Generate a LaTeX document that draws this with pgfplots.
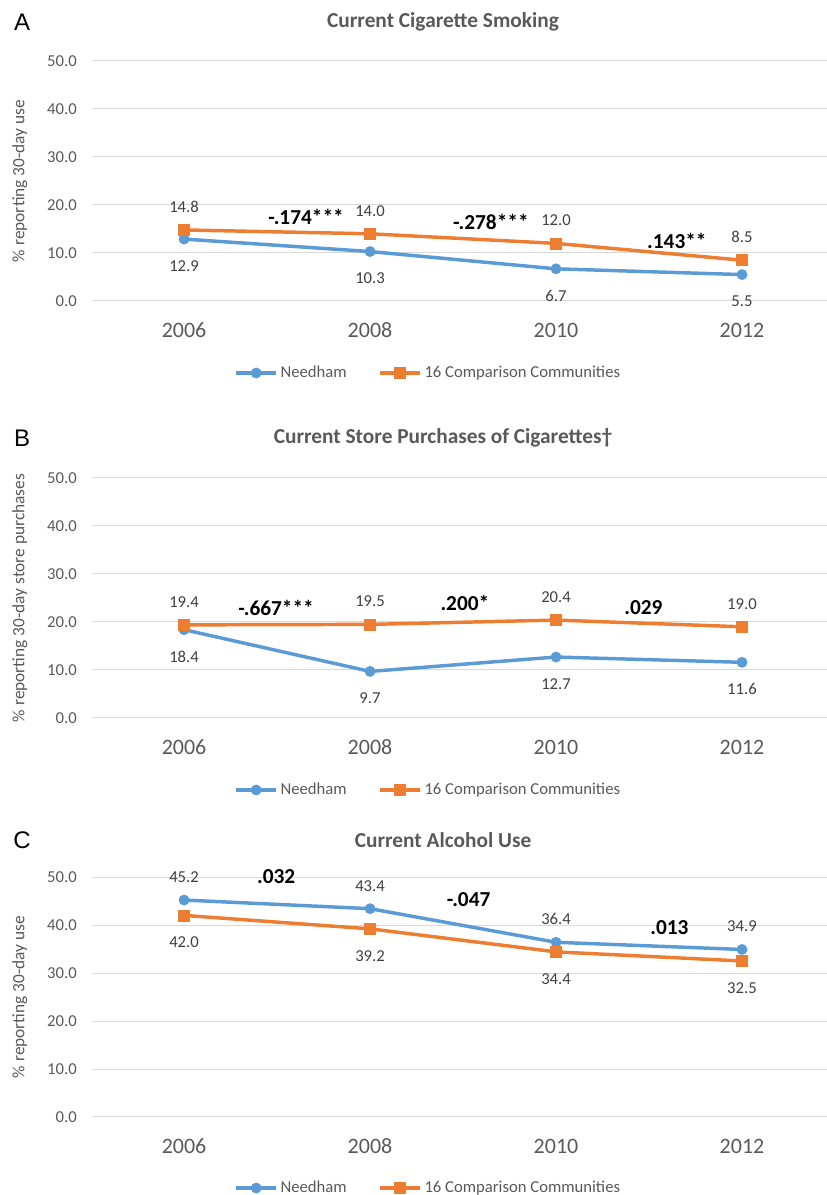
\documentclass[border=0pt]{standalone}
\usepackage{fontspec}
\setmainfont{Carlito}
\newfontfamily\arialfont{Liberation Sans}
\usepackage{pgfplots}
\pgfplotsset{compat=1.18}
\definecolor{nblue}{HTML}{5B9BD5}
\definecolor{corange}{HTML}{ED7D31}
\definecolor{gridgray}{HTML}{D9D9D9}
\definecolor{txtgray}{HTML}{595959}
\definecolor{lblgray}{HTML}{404040}
\newlength{\px}\setlength{\px}{0.75pt}
\newcommand{\fs}[1]{\fontsize{#1}{#1}\selectfont}
\pgfplotsset{
  panel/.style={
    scale only axis, width=735\px, height=240\px,
    xmin=-0.495, xmax=3.457, ymin=0, ymax=50,
    xtick={0,1,2,3}, xticklabels={2006,2008,2010,2012},
    ytick={0,10,20,30,40,50},
    axis line style={draw=none},
    major tick length=0pt,
    ymajorgrids, grid style={gridgray, line width=0.75pt},
    yticklabel style={font=\fs{12.5}, text=txtgray, inner sep=0pt, xshift=-15\px},
    xticklabel style={font=\fs{16.5}, text=txtgray, anchor=center, yshift=-29\px},
    /pgf/number format/fixed, /pgf/number format/fixed zerofill,
    /pgf/number format/precision=1, /pgf/number format/assume math mode=true,
    ylabel style={font=\fs{13}, text=txtgray, at={(axis description cs:-0.098,0.5)}, anchor=center},
    every axis title shift=0pt,
    title style={font=\bfseries\fs{16}, text=txtgray, anchor=center},
    legend style={draw=none, fill=none, font=\fs{12.5}, text=txtgray, legend columns=2,
      at={(axis description cs:0.458,-0.3)}, anchor=center,
      /tikz/every even column/.append style={column sep=29\px}},
    legend image code/.code={\draw[mark repeat=2,mark phase=2,#1] plot coordinates {(0,0) (20\px,0) (40\px,0)};},
    clip=false,
  },
  nd/.style={color=nblue, line width=2.6pt, mark=*, mark size=3.8pt, mark options={line width=0.5pt}},
  cc/.style={color=corange, line width=2.6pt, mark=square*, mark size=4.1pt, mark options={line width=0.5pt}},
  lababove/.style={nodes near coords={\pgfmathprintnumber[fixed,fixed zerofill,precision=1]{\pgfplotspointmeta}},
     every node near coord/.append style={font=\fs{12.5}, text=lblgray, anchor=center, yshift=23\px}},
  labbelow/.style={nodes near coords={\pgfmathprintnumber[fixed,fixed zerofill,precision=1]{\pgfplotspointmeta}},
     every node near coord/.append style={font=\fs{12.5}, text=lblgray, anchor=center, yshift=-27\px}},
}
\newcommand{\sig}[3]{\node[font=\bfseries\fs{16}, text=black, anchor=center] at (axis cs:#1,#2) {#3};}
\newcommand{\letter}[2]{\node[font=\arialfont\fs{18}, text=black, anchor=center] at (axis description cs:-0.0952,#1) {#2};}
\begin{document}
\begin{tikzpicture}
\useasboundingbox (0,0) rectangle (827\px,1195\px);
% Panel A
\begin{axis}[panel, at={(92\px,894\px)}, anchor=south west,
  title={Current Cigarette Smoking}, title style={at={(axis description cs:0.4776,1.1625)}},
  ylabel={\% reporting 30-day use}]
\addplot[nd, labbelow] coordinates {(0,12.9) (1,10.3) (2,6.7) (3,5.5)};
\addlegendentry{Needham}
\addplot[cc, lababove] coordinates {(0,14.8) (1,14.0) (2,12.0) (3,8.5)};
\addlegendentry{16 Comparison Communities}
\sig{0.656}{17.5}{-.174***}
\sig{1.65}{16.5}{-.278***}
\sig{2.65}{12.5}{.143**}
\letter{1.1625}{A}
\end{axis}
% Panel B
\begin{axis}[panel, at={(92\px,477\px)}, anchor=south west,
  title={Current Store Purchases of Cigarettes†}, title style={at={(axis description cs:0.4776,1.1667)}},
  ylabel={\% reporting 30-day store purchases}]
\addplot[nd, labbelow] coordinates {(0,18.4) (1,9.7) (2,12.7) (3,11.6)};
\addlegendentry{Needham}
\addplot[cc, lababove] coordinates {(0,19.4) (1,19.5) (2,20.4) (3,19.0)};
\addlegendentry{16 Comparison Communities}
\sig{0.495}{22.9}{-.667***}
\sig{1.51}{24.0}{.200*}
\sig{2.47}{22.9}{.029}
\letter{1.1667}{B}
\end{axis}
% Panel C
\begin{axis}[panel, at={(92\px,78\px)}, anchor=south west,
  title={Current Alcohol Use}, title style={at={(axis description cs:0.4776,1.154)}},
  ylabel={\% reporting 30-day use},
  legend style={at={(axis description cs:0.458,-0.296)}}]
\addplot[nd, lababove] coordinates {(0,45.2) (1,43.4) (2,36.4) (3,34.9)};
\addlegendentry{Needham}
\addplot[cc, labbelow] coordinates {(0,42.0) (1,39.2) (2,34.4) (3,32.5)};
\addlegendentry{16 Comparison Communities}
\sig{0.495}{50.0}{.032}
\sig{1.53}{45.2}{-.047}
\sig{2.61}{39.4}{.013}
\letter{1.154}{C}
\end{axis}
\end{tikzpicture}
\end{document}
